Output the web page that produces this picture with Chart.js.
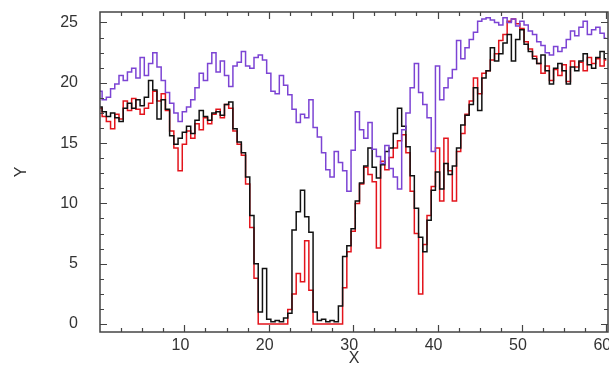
<!DOCTYPE html>
<html>
<head>
<meta charset="utf-8">
<script src="https://cdn.jsdelivr.net/npm/chart.js@4.4.1/dist/chart.umd.min.js"></script>
<style>
  html, body { margin: 0; padding: 0; background: #fff; }
  canvas { display: block; }
</style>
</head>
<body>
<canvas id="plot" width="609" height="367"></canvas>
<script>
// sample positions along X
const xValues = [
  0, 0.5, 1, 1.5, 2, 2.5, 3, 3.5, 4, 4.5, 5, 5.5, 6, 6.5, 7, 7.5, 8, 8.5, 9, 9.5,
  10, 10.5, 11, 11.5, 12, 12.5, 13, 13.5, 14, 14.5, 15, 15.5, 16, 16.5, 17, 17.5, 18, 18.5, 19, 19.5,
  20, 20.5, 21, 21.5, 22, 22.5, 23, 23.5, 24, 24.5, 25, 25.5, 26, 26.5, 27, 27.5, 28, 28.5, 29, 29.5,
  30, 30.5, 31, 31.5, 32, 32.5, 33, 33.5, 34, 34.5, 35, 35.5, 36, 36.5, 37, 37.5, 38, 38.5, 39, 39.5,
  40, 40.5, 41, 41.5, 42, 42.5, 43, 43.5, 44, 44.5, 45, 45.5, 46, 46.5, 47, 47.5, 48, 48.5, 49, 49.5,
  50, 50.5, 51, 51.5, 52, 52.5, 53, 53.5, 54, 54.5, 55, 55.5, 56, 56.5, 57, 57.5, 58, 58.5, 59, 59.5,
  60
]

const purpleY = [
  19.3, 18.6, 18.8, 19.5, 19.9, 20.6, 20.2, 20.9, 21.2, 20.4, 22.1, 20.6, 21.6, 22.5, 21.3, 20.2, 19.2, 18.3, 17.5, 16.8,
  17.6, 18.0, 18.6, 19.6, 20.8, 20.2, 21.6, 22.5, 20.9, 21.8, 20.6, 19.7, 21.4, 21.7, 22.6, 21.4, 21.2, 22.1, 22.3, 21.9,
  20.8, 19.3, 19.1, 20.6, 19.8, 19.0, 17.8, 16.7, 17.4, 17.1, 18.6, 16.3, 15.5, 14.2, 12.8, 12.2, 14.3, 13.4, 12.7, 11.0,
  14.4, 17.6, 16.1, 15.4, 16.7, 14.5, 13.9, 13.3, 14.8, 12.9, 12.2, 11.2, 16.1, 17.5, 19.6, 21.6, 19.2, 18.2, 17.1, 14.3,
  21.4, 18.6, 19.6, 20.4, 21.1, 23.5, 22.0, 22.9, 23.6, 24.2, 25.1, 25.3, 25.4, 25.2, 25.0, 24.8, 25.4, 25.0, 25.3, 24.7,
  25.1, 24.8, 24.3, 24.0, 23.4, 23.1, 22.5, 22.3, 23.0, 22.6, 22.9, 23.6, 24.3, 23.9, 24.6, 25.1, 24.0, 24.4, 24.6, 24.1,
  23.7
]

const blackY = [
  18.0, 17.6, 17.2, 17.5, 17.1, 16.8, 17.9, 18.3, 17.9, 18.6, 18.1, 18.8, 20.2, 19.4, 17.0, 18.6, 17.8, 15.6, 14.9, 15.4,
  15.9, 16.4, 15.8, 16.9, 17.7, 17.2, 16.9, 17.5, 17.6, 17.3, 18.2, 18.4, 16.2, 15.1, 14.2, 12.2, 9.0, 5.0, 1.0, 4.6,
  0.4, 0.2, 0.3, 0.2, 0.5, 0.9, 7.8, 9.3, 11.1, 8.9, 7.6, 1.0, 0.3, 0.4, 0.2, 0.3, 0.2, 1.5, 5.6, 6.5,
  7.9, 10.2, 11.7, 13.1, 14.6, 13.0, 12.1, 13.2, 14.3, 14.6, 15.8, 17.9, 16.4, 14.7, 12.3, 9.6, 7.2, 6.0, 8.6, 11.1,
  12.6, 11.2, 13.3, 12.4, 13.1, 14.6, 16.5, 17.3, 18.2, 19.6, 17.7, 20.4, 21.0, 22.9, 21.8, 22.4, 23.3, 24.0, 21.8, 23.6,
  24.4, 23.2, 22.6, 22.0, 21.6, 22.3, 21.0, 19.9, 21.2, 21.6, 21.0, 19.9, 21.3, 21.0, 21.8, 22.4, 21.5, 21.2, 22.1, 22.6,
  22.0
]

const redY = [
  17.9, 17.2, 16.8, 16.2, 17.4, 17.0, 18.5, 17.7, 18.7, 17.8, 17.4, 17.9, 18.3, 19.3, 18.5, 19.1, 17.7, 16.0, 14.6, 12.7,
  14.9, 16.0, 15.4, 16.6, 16.1, 17.1, 16.6, 17.4, 17.8, 17.1, 18.2, 17.9, 16.0, 14.9, 14.0, 11.6, 8.0, 3.8, 0.0, 0.0,
  0.0, 0.0, 0.0, 0.0, 0.0, 1.2, 2.5, 4.2, 3.5, 6.9, 2.8, 0.0, 0.0, 0.0, 0.0, 0.0, 0.0, 0.0, 3.0, 6.0,
  7.7, 10.0, 11.6, 13.0, 12.4, 11.8, 6.3, 13.5, 12.8, 13.8, 14.6, 15.2, 15.7, 14.2, 11.0, 7.5, 2.5, 6.6, 9.0, 11.4,
  14.6, 10.2, 15.4, 12.7, 10.2, 14.3, 15.8, 17.4, 18.5, 20.4, 19.1, 20.8, 21.0, 21.9, 22.4, 23.5, 24.0, 25.1, 25.3, 24.9,
  24.5, 23.4, 22.8, 22.2, 21.6, 20.8, 21.4, 20.2, 21.1, 20.6, 21.5, 20.1, 21.8, 21.3, 21.7, 21.0, 22.1, 21.6, 22.0, 21.4,
  21.9
]

const xTicks = [10, 20, 30, 40, 50, 60]
const yTicks = [0, 5, 10, 15, 20, 25]

const toPoints = (ys) => ys.map((v, i) => ({ x: xValues[i], y: v }))

const axisColor = '#444'
const labelFont = { family: 'Liberation Sans, Arial, sans-serif', size: 16 }

// IDL style box with inward ticks on all four sides
const boxTicks = {
  id: 'boxTicks',
  afterDraw(chart) {
    const { ctx, chartArea: a, scales } = chart
    const sx = scales.x
    const sy = scales.y
    ctx.save()
    ctx.strokeStyle = axisColor
    ctx.lineWidth = 1.5
    ctx.strokeRect(a.left, a.top, a.right - a.left, a.bottom - a.top)
    ctx.lineWidth = 1.2
    ctx.beginPath()
    for (let v = 2.5; v <= sx.max; v += 2.5) {
      const px = Math.round(sx.getPixelForValue(v)) + 0.5
      const len = v % 10 === 0 ? 7 : 4
      ctx.moveTo(px, a.bottom); ctx.lineTo(px, a.bottom - len)
      ctx.moveTo(px, a.top); ctx.lineTo(px, a.top + len)
    }
    for (let v = 0; v <= sy.max; v += 1.25) {
      const py = Math.round(sy.getPixelForValue(v)) + 0.5
      const len = v % 5 === 0 ? 7 : 4
      ctx.moveTo(a.left, py); ctx.lineTo(a.left + len, py)
      ctx.moveTo(a.right, py); ctx.lineTo(a.right - len, py)
    }
    ctx.stroke()
    ctx.restore()
  }
}

const line = (data, color) => ({
  data: toPoints(data),
  borderColor: color,
  borderWidth: 1.5,
  pointRadius: 0,
  stepped: 'middle',
  fill: false
})

new Chart(document.getElementById('plot'), {
  type: 'line',
  data: {
    datasets: [
      line(purpleY, '#7c44d4'),
      line(blackY, '#111111'),
      line(redY, '#e3141c')
    ]
  },
  options: {
    responsive: false,
    animation: false,
    layout: { autoPadding: false, padding: { top: 12, right: 1, left: 0, bottom: 0 } },
    plugins: { legend: { display: false }, tooltip: { enabled: false } },
    scales: {
      x: {
        type: 'linear',
        min: 0,
        max: 60.2,
        afterFit: (s) => { s.height = 35; s.paddingLeft = 0; s.paddingRight = 0 },
        afterBuildTicks: (s) => { s.ticks = xTicks.map(v => ({ value: v })) },
        grid: { display: false, drawTicks: false },
        border: { display: false },
        ticks: { color: '#333', font: labelFont, padding: 4, labelOffset: -4, maxRotation: 0, autoSkip: false },
        title: { display: true, text: 'X', color: '#333', font: { ...labelFont, lineHeight: 1 }, padding: 0 }
      },
      y: {
        type: 'linear',
        min: -0.66,
        max: 25.87,
        afterFit: (s) => { s.width = 100; s.paddingTop = 0; s.paddingBottom = 0 },
        afterBuildTicks: (s) => { s.ticks = yTicks.map(v => ({ value: v })) },
        grid: { display: false, drawTicks: false },
        border: { display: false },
        ticks: { color: '#333', font: labelFont, padding: 22, autoSkip: false },
        title: { display: true, text: 'Y', color: '#333', font: { ...labelFont, lineHeight: 1 }, padding: { top: 14, bottom: 0 } }
      }
    }
  },
  plugins: [boxTicks]
})
</script>
</body>
</html>
